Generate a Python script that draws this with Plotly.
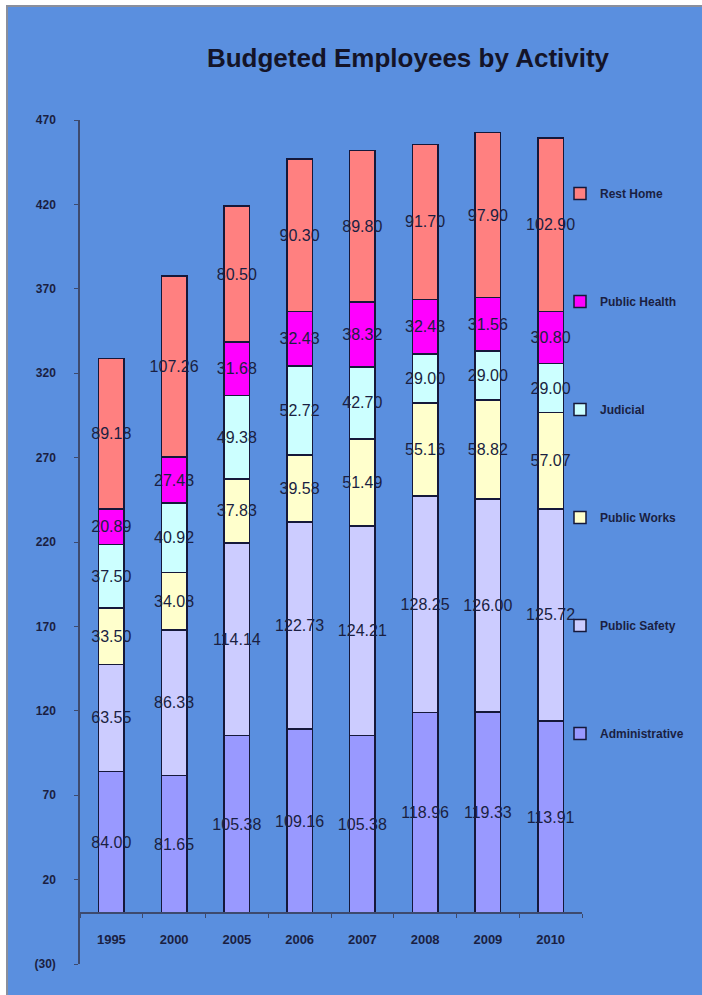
import plotly.graph_objects as go

years = ["1995", "2000", "2005", "2006", "2007", "2008", "2009", "2010"]

administrative = [84.00, 81.65, 105.38, 109.16, 105.38, 118.96, 119.33, 113.91]
public_safety = [63.55, 86.33, 114.14, 122.73, 124.21, 128.25, 126.00, 125.72]
public_works = [33.50, 34.08, 37.83, 39.58, 51.49, 55.16, 58.82, 57.07]
judicial = [37.50, 40.92, 49.38, 52.72, 42.70, 29.00, 29.00, 29.00]
public_health = [20.89, 27.43, 31.68, 32.43, 38.32, 32.43, 31.56, 30.80]
rest_home = [89.18, 107.26, 80.50, 90.30, 89.80, 91.70, 97.90, 102.90]

series_names = ["Administrative", "Public Safety", "Public Works", "Judicial", "Public Health", "Rest Home"]
series_values = [administrative, public_safety, public_works, judicial, public_health, rest_home]
series_colors = ["#9999ff", "#ccccff", "#ffffcc", "#ccffff", "#ff00ff", "#ff8080"]

y_ticks = [-30, 20, 70, 120, 170, 220, 270, 320, 370, 420, 470]
y_ticktext = ["(30)", "20", "70", "120", "170", "220", "270", "320", "370", "420", "470"]
y_min, y_max = -30, 470

BG = "#5a8fdf"
DARK = "#1a1f42"
AXIS = "#3d4a6e"

fig = go.Figure()
n = len(series_names)
for i, (name, vals, col) in enumerate(zip(series_names, series_values, series_colors)):
    fig.add_trace(go.Bar(
        x=years, y=vals, name=name, legendgroup=name, legendrank=n - i,
        marker=dict(color=col, line=dict(color="#15183a", width=1.5)),
        texttemplate="%{y:.2f}", textposition="inside", insidetextanchor="middle",
        constraintext="none", textangle=0,
        textfont=dict(family="Arial", size=16, color=DARK),
        cliponaxis=False,
    ))

L, R, T, B = 80, 120, 120, 31
W, H = 702, 995
pw, ph = W - L - R, H - T - B

def px_x(p):
    return (p - L) / pw

def px_y(p):
    return (H - B - p) / ph

fig.update_layout(
    width=W, height=H,
    margin=dict(l=L, r=R, t=T, b=B, autoexpand=False),
    barmode="stack", bargap=0.59,
    paper_bgcolor="white", plot_bgcolor="rgba(0,0,0,0)",
    font=dict(family="Arial", color=DARK),
    title=dict(text="<b>Budgeted Employees by Activity</b>", x=px_x(408), xref="paper",
               xanchor="center", y=1 - 58 / H, yanchor="middle",
               font=dict(family="Arial", size=26, color="#141428")),
    showlegend=True,
    legend=dict(x=px_x(560), y=px_y(179), xanchor="left", yanchor="top",
                traceorder="grouped", tracegroupgap=89,
                bgcolor="rgba(0,0,0,0)",
                font=dict(family="Arial", size=12, color=DARK, weight="bold")),
    xaxis=dict(anchor="free", position=(0 - y_min) / (y_max - y_min),
               showline=True, linecolor=AXIS, linewidth=1.5,
               ticks="outside", tickson="boundaries", ticklen=4, tickcolor=AXIS,
               ticklabelstandoff=14,
               tickfont=dict(family="Arial", size=13, color=DARK, weight="bold"),
               showgrid=False, zeroline=False),
    yaxis=dict(range=[y_min, y_max], tickvals=y_ticks, ticktext=y_ticktext,
               showline=True, linecolor=AXIS, linewidth=1.5,
               ticks="outside", ticklen=4, tickcolor=AXIS, ticklabelstandoff=16,
               tickfont=dict(family="Arial", size=12, color=DARK, weight="bold"),
               showgrid=False, zeroline=False),
    shapes=[dict(type="rect", xref="paper", yref="paper", layer="below",
                 x0=px_x(7), x1=px_x(W + 5), y0=px_y(6), y1=px_y(H + 5),
                 fillcolor=BG, line=dict(color="#8a8f9c", width=2))],
)

fig.write_html("out.html")
